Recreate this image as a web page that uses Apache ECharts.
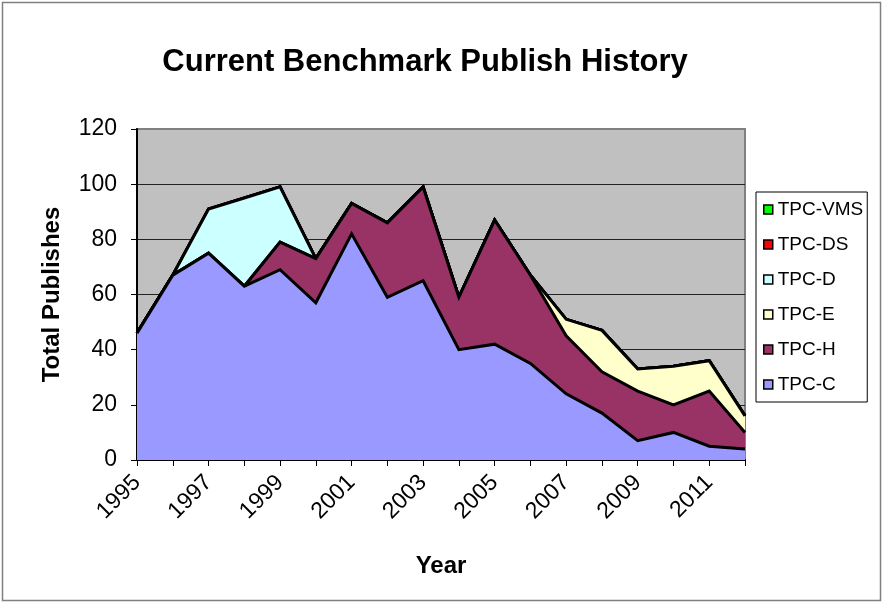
<!DOCTYPE html>
<html>
<head>
<meta charset="utf-8">
<script src="https://cdn.jsdelivr.net/npm/echarts@6/dist/echarts.min.js"></script>
<style>
  html, body { margin: 0; padding: 0; background: #fff; }
  #chartMain { width: 884px; height: 605px; }
</style>
</head>
<body>
<div id="chartMain"></div>
<script>
// 年份
const years = ['1995', '1996', '1997', '1998', '1999', '2000', '2001', '2002', '2003',
  '2004', '2005', '2006', '2007', '2008', '2009', '2010', '2011', '2012'];

// 每个 benchmark 的发布数
const tpcC = [46, 67, 75, 63, 69, 57, 82, 59, 65, 40, 42, 35, 24, 17, 7, 10, 5, 4];
const tpcH = [0, 0, 0, 0, 10, 16, 11, 27, 34, 19, 45, 32, 21, 15, 18, 10, 20, 6];
const tpcE = [0, 0, 0, 0, 0, 0, 0, 0, 0, 0, 0, 0, 6, 15, 8, 14, 11, 6];
const tpcD = [0, 0, 16, 32, 20, 0, 0, 0, 0, 0, 0, 0, 0, 0, 0, 0, 0, 0];
const tpcDS = [0, 0, 0, 0, 0, 0, 0, 0, 0, 0, 0, 0, 0, 0, 0, 0, 0, 0];
const tpcVMS = [0, 0, 0, 0, 0, 0, 0, 0, 0, 0, 0, 0, 0, 0, 0, 0, 0, 0];

const yTicks = [0, 20, 40, 60, 80, 100, 120];

const FONT = '"Liberation Sans", Arial, sans-serif';

// 从下往上堆叠的顺序
const seriesList = [
  { name: 'TPC-C', data: tpcC, color: '#9999FF' },
  { name: 'TPC-H', data: tpcH, color: '#993366' },
  { name: 'TPC-E', data: tpcE, color: '#FFFFCC' },
  { name: 'TPC-D', data: tpcD, color: '#CCFFFF' },
  { name: 'TPC-DS', data: tpcDS, color: '#FF0000' },
  { name: 'TPC-VMS', data: tpcVMS, color: '#00FF00' }
];

const myChart = echarts.init(document.getElementById('chartMain'), null, { renderer: 'canvas' });

myChart.setOption({
  animation: false,
  backgroundColor: '#fff',
  textStyle: { fontFamily: FONT },
  graphic: [{
    type: 'rect',
    shape: { x: 2.5, y: 2.5, width: 878, height: 598 },
    style: { fill: 'none', stroke: '#808080', lineWidth: 1.5 },
    silent: true
  }],
  title: {
    text: 'Current Benchmark Publish History',
    left: 420,
    textAlign: 'center',
    top: 42,
    textStyle: { fontFamily: FONT, fontSize: 31, fontWeight: 'bold', color: '#000' }
  },
  legend: {
    orient: 'vertical',
    left: 756,
    top: 192,
    padding: [8, 4, 8, 7],
    itemGap: 16,
    itemWidth: 9,
    itemHeight: 9,
    icon: 'rect',
    borderColor: '#000',
    borderWidth: 1,
    backgroundColor: '#fff',
    textStyle: { fontFamily: FONT, fontSize: 19, color: '#000' },
    data: seriesList.slice().reverse().map(s => ({
      name: s.name,
      itemStyle: { color: s.color, borderColor: '#000', borderWidth: 1.5 }
    }))
  },
  grid: {
    left: 137,
    right: 139,
    top: 129,
    bottom: 145,
    show: true,
    backgroundColor: '#C0C0C0',
    borderColor: '#808080',
    borderWidth: 2
  },
  xAxis: {
    type: 'category',
    data: years,
    boundaryGap: false,
    name: 'Year',
    nameLocation: 'middle',
    nameGap: 94,
    nameTextStyle: { fontFamily: FONT, fontSize: 24, fontWeight: 'bold', color: '#000' },
    axisLine: { lineStyle: { color: '#000', width: 2 } },
    axisTick: { show: true, interval: 0, length: 6, lineStyle: { color: '#000', width: 1 } },
    axisLabel: { interval: 1, rotate: 45, margin: 19, fontFamily: FONT, fontSize: 23, color: '#000' },
    splitLine: { show: false }
  },
  yAxis: {
    type: 'value',
    min: yTicks[0],
    max: yTicks[yTicks.length - 1],
    interval: 20,
    name: 'Total Publishes',
    nameLocation: 'middle',
    nameGap: 73,
    nameRotate: 90,
    nameTextStyle: { fontFamily: FONT, fontSize: 24, fontWeight: 'bold', color: '#000' },
    axisLine: { show: true, lineStyle: { color: '#000', width: 2 } },
    axisTick: { show: true, length: 6, lineStyle: { color: '#000', width: 1 } },
    axisLabel: { margin: 20, fontFamily: FONT, fontSize: 23, color: '#000' },
    splitLine: { show: true, showMaxLine: false, showMinLine: false, lineStyle: { color: '#222', width: 1 } }
  },
  series: seriesList.map((s, i) => ({
    name: s.name,
    type: 'line',
    stack: 'total',
    data: s.data,
    z: 10 - i,
    showSymbol: false,
    symbol: 'none',
    itemStyle: { color: s.color },
    lineStyle: { color: '#000', width: 3, join: 'miter' },
    areaStyle: { color: s.color, opacity: 1 },
    emphasis: { disabled: true }
  }))
});
</script>
</body>
</html>
